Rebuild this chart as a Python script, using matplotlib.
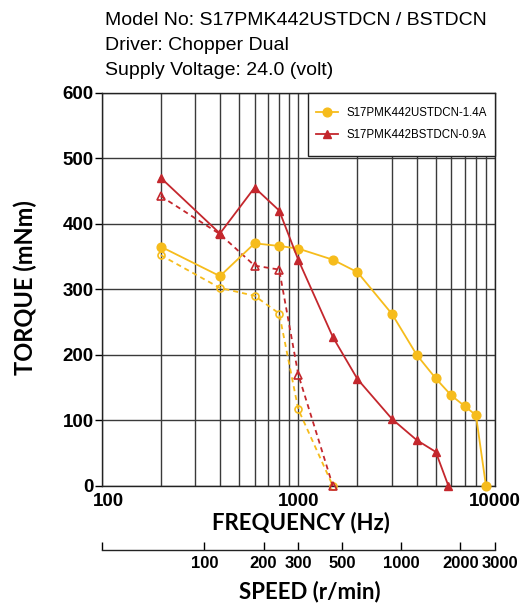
import matplotlib.pyplot as plt
from matplotlib.ticker import NullFormatter, NullLocator, FixedLocator
from matplotlib.transforms import ScaledTranslation
from matplotlib.patches import Rectangle

# data
freq_ust = [200, 400, 600, 800, 1000, 1500, 2000, 3000, 4000, 5000, 6000, 7000, 8000, 9000]
torque_ust = [365, 320, 370, 366, 362, 345, 326, 262, 200, 164, 138, 122, 108, 0]

freq_ust_pi = [200, 400, 600, 800, 1000, 1500]
torque_ust_pi = [352, 302, 290, 263, 117, 0]

freq_bst = [200, 400, 600, 800, 1000, 1500, 2000, 3000, 4000, 5000, 5800]
torque_bst = [470, 385, 455, 420, 345, 227, 163, 102, 70, 52, 0]

freq_bst_pi = [200, 400, 600, 800, 1000, 1500]
torque_bst_pi = [442, 384, 336, 330, 170, 0]

speed_ticks = [100, 200, 300, 500, 1000, 2000, 3000]
title_lines = ['Model No: S17PMK442USTDCN / BSTDCN',
               'Driver: Chopper Dual',
               'Supply Voltage: 24.0 (volt)']

yellow = '#F6BC1C'
red = '#C4272D'
gridc = '#3a3a3a'

W, H = 531, 606
fig = plt.figure(figsize=(W / 100, H / 100), dpi=100)

L, R, T, B = 101.5, 495, 92.5, 486
ax = fig.add_axes([L / W, 1 - B / H, (R - L) / W, (B - T) / H])

ax.plot(freq_ust, torque_ust, '-', color=yellow, lw=1.3, marker='o', ms=6.3,
        mfc=yellow, mec=yellow, label='S17PMK442USTDCN-1.4A', zorder=4, clip_on=False)
ax.plot(freq_ust_pi, torque_ust_pi, '--', color=yellow, lw=1.3, marker='o', ms=5,
        mfc='none', mec=yellow, mew=1.2, dashes=(2.8, 2.2), zorder=3, clip_on=False)
ax.plot(freq_bst, torque_bst, '-', color=red, lw=1.3, marker='^', ms=6,
        mfc=red, mec=red, label='S17PMK442BSTDCN-0.9A', zorder=4, clip_on=False)
ax.plot(freq_bst_pi, torque_bst_pi, '--', color=red, lw=1.3, marker='^', ms=6,
        mfc='none', mec=red, mew=1.2, dashes=(2.8, 2.2), zorder=3, clip_on=False)

ax.set_xscale('log')
ax.set_xlim(100, 10000)
ax.set_ylim(0, 600)
ax.set_yticks(range(0, 601, 100))
ax.set_xticks([100, 1000, 10000])
ax.set_xticklabels(['100', '1000', '10000'])
ax.xaxis.set_minor_formatter(NullFormatter())
ax.grid(True, which='both', axis='x', color=gridc, lw=1.0)
ax.grid(True, which='major', axis='y', color=gridc, lw=1.0)
ax.set_axisbelow(True)

ax.tick_params(axis='x', which='both', length=0, pad=5)
ax.tick_params(axis='y', length=5, width=1, direction='out', pad=0.5)
for lab in ax.get_xticklabels() + ax.get_yticklabels():
    lab.set_fontfamily('Liberation Sans')
    lab.set_fontweight('bold')
    lab.set_fontsize(13.5)
# "100" sits a little right of its gridline
lab100 = ax.get_xticklabels()[0]
lab100.set_transform(lab100.get_transform() + ScaledTranslation(7 / 100, 0, fig.dpi_scale_trans))
for s in ax.spines.values():
    s.set_linewidth(1.0)
    s.set_color('#222222')

# legend box
bx0, by0 = 307.7, 156
ax.add_patch(Rectangle(((bx0 - L) / (R - L), (B - by0) / (B - T)),
                       1 - (bx0 - L) / (R - L), 1 - (B - by0) / (B - T),
                       transform=ax.transAxes, facecolor='white', edgecolor='#222222',
                       lw=1.0, zorder=5, clip_on=False))
leg = ax.legend(loc='center', bbox_to_anchor=(((bx0 + R) / 2 - L) / (R - L), (B - 124) / (B - T)),
                frameon=False, prop={'family': 'Liberation Sans', 'size': 8.3},
                labelspacing=0.85, handlelength=1.96, handletextpad=0.73,
                borderpad=0, borderaxespad=0)
leg.set_zorder(6)

# speed axis under the frequency axis
ys = 550.4
ax2 = fig.add_axes([L / W, 1 - ys / H, (R - L) / W, 0.001])
ax2.set_xscale('log')
ax2.set_xlim(30, 3000)
ax2.set_yticks([])
for k in ['top', 'left', 'right']:
    ax2.spines[k].set_visible(False)
ax2.spines['bottom'].set_linewidth(1.0)
ax2.spines['bottom'].set_color('#222222')
ax2.xaxis.set_major_locator(FixedLocator([30] + speed_ticks))
ax2.set_xticklabels([''] + [str(v) for v in speed_ticks])
ax2.xaxis.set_minor_locator(NullLocator())
ax2.tick_params(axis='x', direction='in', length=6, width=1, pad=4)
for lab in ax2.get_xticklabels():
    lab.set_fontfamily('Liberation Sans')
    lab.set_fontweight('bold')
    lab.set_fontsize(12)
lab3000 = ax2.get_xticklabels()[-1]
lab3000.set_transform(lab3000.get_transform() + ScaledTranslation(5 / 100, 0, fig.dpi_scale_trans))
ax2.patch.set_visible(False)

lab_font = ['Lato', 'DejaVu Sans']
fig.text(301 / W, 1 - 523 / H, 'FREQUENCY (Hz)', ha='center', va='center',
         fontsize=16, fontweight='bold', family=lab_font)
fig.text(310 / W, 1 - 591.5 / H, 'SPEED (r/min)', ha='center', va='center',
         fontsize=16, fontweight='bold', family=lab_font)
fig.text(25 / W, 1 - 288 / H, 'TORQUE (mNm)', ha='center', va='center',
         rotation=90, fontsize=17, fontweight='bold', family=lab_font)

for i, t in enumerate(title_lines):
    fig.text(105 / W, 1 - (25.4 + 24.9 * i) / H, t, ha='left', va='baseline',
             fontsize=14, family=['Liberation Sans', 'DejaVu Sans'])

fig.savefig('out.png', dpi=100)
